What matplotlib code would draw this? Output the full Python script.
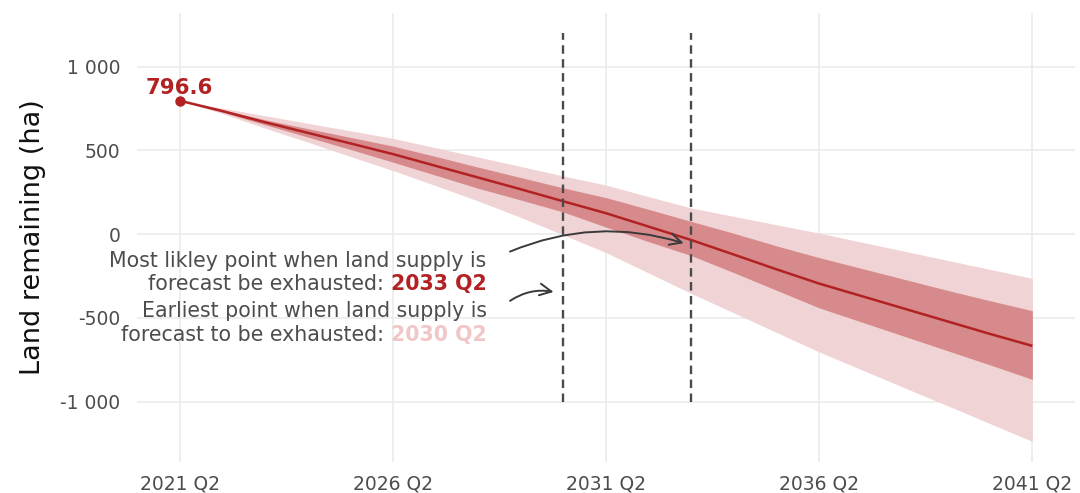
import numpy as np
import matplotlib.pyplot as plt
from matplotlib.transforms import offset_copy

# Forecast of land remaining, one value per year at Q2
years = [2021, 2022, 2023, 2024, 2025, 2026, 2027, 2028, 2029, 2030, 2031,
         2032, 2033, 2034, 2035, 2036, 2037, 2038, 2039, 2040, 2041]
remaining = [796.6, 735, 668, 605, 542, 478, 408, 338, 268, 196, 125,
             45, -35, -122, -210, -295, -370, -445, -520, -595, -667]
inner_hi = [796.6, 742, 683, 630, 578, 526, 464, 400, 338, 276, 218,
            148, 76, 5, -70, -140, -205, -270, -335, -397, -457]
inner_lo = [796.6, 728, 653, 580, 506, 430, 352, 274, 204, 132, 42,
            -45, -128, -230, -335, -440, -525, -610, -695, -780, -867]
outer_hi = [796.6, 752, 707, 662, 617, 572, 516, 460, 404, 347, 293,
            224, 156, 106, 56, 6, -48, -102, -156, -210, -264]
outer_lo = [796.6, 720, 633, 550, 464, 380, 290, 198, 100, -5, -110,
            -232, -354, -470, -587, -703, -810, -917, -1023, -1130, -1237]

tick_years = [2021, 2026, 2031, 2036, 2041]
most_likely_year = 2033
earliest_year = 2030
y_ticks = [1000, 500, 0, -500, -1000]
y_tick_labels = ["1 000", "500", "0", "-500", "-1 000"]

QUARTER = 2
x = np.array(years) + (QUARTER - 1) / 4

RED = "#B22222"
INNER = "#D68A8C"
OUTER = "#F0D4D5"
PALE = "#F0C6C7"
GREY_TXT = "#4D4D4D"
GRID = "#EBEBEB"

plt.rcParams["font.family"] = ["DejaVu Sans"]

fig = plt.figure(figsize=(10.8, 4.93), dpi=100)
ax = fig.add_axes([137 / 1080, 1 - 462 / 493, (1075 - 137) / 1080, (462 - 13) / 493])

ax.fill_between(x, outer_lo, outer_hi, color=OUTER, lw=0, zorder=2)
ax.fill_between(x, inner_lo, inner_hi, color=INNER, lw=0, zorder=3)
ax.plot(x, remaining, color=RED, lw=1.8, zorder=4, solid_capstyle="butt")
ax.plot(x[0], remaining[0], "o", color=RED, ms=6.5, zorder=5)
ax.annotate(f"{remaining[0]:.1f}", (x[0], remaining[0]), xytext=(0, 4.5),
            textcoords="offset points", ha="center", va="baseline",
            color=RED, fontsize=15.3, fontweight="bold", zorder=6)

# Dashed markers for the forecast exhaustion points
for yr in (earliest_year, most_likely_year):
    xv = yr + (QUARTER - 1) / 4
    ax.plot([xv, xv], [-1000, 1200], color="#4A4A4A", lw=1.7,
            dashes=(3.6, 2.3), zorder=5)

ax.set_xlim(x[0] - 1, x[-1] + 1)
ax.set_ylim(-1360, 1320)
ax.set_xticks([t + (QUARTER - 1) / 4 for t in tick_years])
ax.set_xticklabels([f"{t} Q{QUARTER}" for t in tick_years])
ax.set_yticks(y_ticks)
ax.set_yticklabels(y_tick_labels)
ax.tick_params(axis="both", length=0, labelsize=13.5, labelcolor=GREY_TXT)
ax.tick_params(axis="x", pad=9)
ax.tick_params(axis="y", pad=12)
ax.grid(True, color=GRID, lw=1.2, zorder=0)
ax.set_axisbelow(True)
for s in ax.spines.values():
    s.set_visible(False)

ax.set_ylabel("Land remaining (ha)", fontsize=19.5, color="#111111")
ax.yaxis.set_label_coords(-0.097, 0.5)

fig.canvas.draw()
renderer = fig.canvas.get_renderer()

FS = 14.8
space_px = FS * fig.dpi / 72 * 0.318


def rich_right(xr, yb, pieces):
    """Draw coloured text pieces right-aligned, ending at (xr, yb)."""
    shift = 0.0
    for s, c, w in reversed(pieces):
        tr = offset_copy(ax.transData, fig=fig, x=-shift, y=0, units="dots")
        t = ax.text(xr, yb, s, color=c, fontweight=w, ha="right",
                    va="baseline", fontsize=FS, transform=tr, zorder=6)
        shift += t.get_window_extent(renderer).width + space_px


text_right = 2028.45
rich_right(text_right, -196, [("Most likley point when land supply is", GREY_TXT, "normal")])
rich_right(text_right, -336, [("forecast be exhausted:", GREY_TXT, "normal"),
                              (f"{most_likely_year} Q{QUARTER}", RED, "bold")])
rich_right(text_right, -497, [("Earliest point when land supply is", GREY_TXT, "normal")])
rich_right(text_right, -637, [("forecast to be exhausted:", GREY_TXT, "normal"),
                              (f"{earliest_year} Q{QUARTER}", PALE, "bold")])

arrow_kw = dict(arrowstyle="->", color="#3A3A3A", lw=1.4, mutation_scale=21,
                shrinkA=0, shrinkB=0)
ax.annotate("", xy=(2033.07, -54), xytext=(2029.0, -104),
            arrowprops=dict(connectionstyle="arc3,rad=-0.18", **arrow_kw), zorder=6)
ax.annotate("", xy=(2030.02, -345), xytext=(2029.0, -398),
            arrowprops=dict(connectionstyle="arc3,rad=-0.2", **arrow_kw), zorder=6)

fig.savefig("out.png", dpi=100)
